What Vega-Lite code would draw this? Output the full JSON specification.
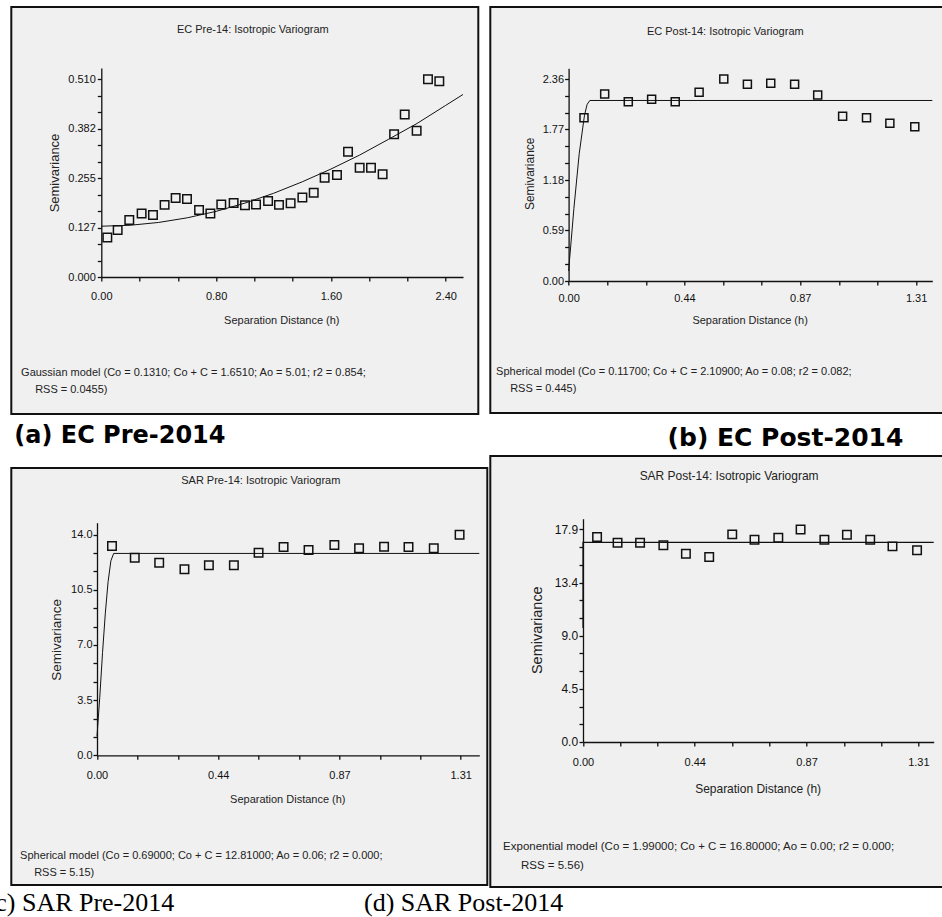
{
  "$schema": "https://vega.github.io/schema/vega-lite/v6.json",
  "background": "white",
  "padding": {"left": -14.7, "top": 6, "right": 0, "bottom": 0},
  "title": {"text": "(d) SAR Post-2014", "orient": "bottom", "anchor": "start", "frame": "group", "dx": 352.7, "offset": -27, "font": "Liberation Serif", "fontSize": 26, "fontWeight": "normal", "color": "#000"},
  "spacing": 1,
  "hconcat": [
    {
      "spacing": 18,
      "vconcat": [
        {
          "width": 467, "height": 407,
          "title": {"text": "(a) EC Pre-2014", "orient": "bottom", "anchor": "start", "frame": "group", "dx": 3, "offset": 10, "font": "DejaVu Sans", "fontSize": 24, "fontWeight": "bold", "color": "#000"},
          "data": {"values": [
            {"k":"o","h":0.042,"g":0.102},{"k":"o","h":0.114,"g":0.121},{"k":"o","h":0.195,"g":0.147},{"k":"o","h":0.281,"g":0.164},{"k":"o","h":0.360,"g":0.160},
            {"k":"o","h":0.441,"g":0.186},{"k":"o","h":0.518,"g":0.204},{"k":"o","h":0.597,"g":0.201},{"k":"o","h":0.681,"g":0.173},{"k":"o","h":0.760,"g":0.164},
            {"k":"o","h":0.836,"g":0.187},{"k":"o","h":0.922,"g":0.191},{"k":"o","h":1.001,"g":0.185},{"k":"o","h":1.078,"g":0.187},{"k":"o","h":1.162,"g":0.196},
            {"k":"o","h":1.238,"g":0.186},{"k":"o","h":1.319,"g":0.190},{"k":"o","h":1.401,"g":0.205},{"k":"o","h":1.480,"g":0.217},{"k":"o","h":1.556,"g":0.256},
            {"k":"o","h":1.642,"g":0.263},{"k":"o","h":1.719,"g":0.323},{"k":"o","h":1.800,"g":0.282},{"k":"o","h":1.879,"g":0.282},{"k":"o","h":1.960,"g":0.265},
            {"k":"o","h":2.040,"g":0.368},{"k":"o","h":2.114,"g":0.419},{"k":"o","h":2.197,"g":0.377},{"k":"o","h":2.276,"g":0.510},{"k":"o","h":2.355,"g":0.505},
            {"k":"m","i":0,"h":0,"g":0.131},{"k":"m","i":1,"h":0.2,"g":0.1334},{"k":"m","i":2,"h":0.4,"g":0.1407},{"k":"m","i":3,"h":0.6,"g":0.1527},
            {"k":"m","i":4,"h":0.8,"g":0.1693},{"k":"m","i":5,"h":1.0,"g":0.1905},{"k":"m","i":6,"h":1.2,"g":0.2158},{"k":"m","i":7,"h":1.4,"g":0.2455},
            {"k":"m","i":8,"h":1.6,"g":0.2784},{"k":"m","i":9,"h":1.8,"g":0.3145},{"k":"m","i":10,"h":2.0,"g":0.3549},{"k":"m","i":11,"h":2.2,"g":0.3960},
            {"k":"m","i":12,"h":2.4,"g":0.4427},{"k":"m","i":13,"h":2.52,"g":0.4707}
          ]},
          "layer": [
            {
              "transform": [{"filter": "datum.k == 'm'"}],
              "mark": {"type": "line", "color": "#111", "strokeWidth": 1},
              "encoding": {
                "x": {"field": "h", "type": "quantitative",
                  "scale": {"domain": [0, 2.52], "range": [90, 451.7], "nice": false, "zero": false},
                  "axis": {"values": [0, 0.266667, 0.533333, 0.8, 1.066667, 1.333333, 1.6, 1.866667, 2.133333, 2.4],
                    "labelExpr": "abs(datum.value/0.8-round(datum.value/0.8))<0.01 ? format(datum.value,'.2f') : ''",
                    "offset": -137, "labelPadding": 9, "title": "Separation Distance (h)", "titleX": 270, "titleY": 43, "titleBaseline": "middle", "titleAlign": "center"}},
                "y": {"field": "g", "type": "quantitative",
                  "scale": {"domain": [0, 0.539], "range": [270, 61], "nice": false, "zero": false},
                  "axis": {"values": [0, 0.0425, 0.085, 0.1275, 0.17, 0.2125, 0.255, 0.2975, 0.34, 0.3825, 0.425, 0.4675, 0.51],
                    "labelExpr": "abs(datum.value/0.1275-round(datum.value/0.1275))<0.01 ? format(floor(datum.value*1000+0.001)/1000,'.3f') : ''",
                    "offset": -90, "labelPadding": 2, "title": "Semivariance", "titleFontSize": 13, "titleX": -46.7, "titleY": 165.5, "titleBaseline": "middle", "titleAngle": 270, "titleAlign": "center"}},
                "order": {"field": "i", "type": "quantitative"}
              }
            },
            {
              "transform": [{"filter": "datum.k == 'o'"}],
              "mark": {"type": "square", "filled": false, "color": "#111", "size": 72, "strokeWidth": 1.5, "opacity": 1},
              "encoding": {
                "x": {"field": "h", "type": "quantitative",
                  "axis": {"orient": "top", "domain": false, "ticks": false, "labels": false, "title": "EC Pre-14: Isotropic Variogram", "titleX": 241, "titleY": 22.3, "titleBaseline": "middle", "titleAlign": "center"}},
                "y": {"field": "g", "type": "quantitative",
                  "axis": {"orient": "right", "domain": false, "ticks": false, "labels": false,
                    "title": ["Gaussian model (Co = 0.1310; Co + C = 1.6510; Ao = 5.01; r2 = 0.854;", "\u200b\u2003\u00a0RSS = 0.0455)"],
                    "titleX": -457.7, "titleY": 368.5, "titleAngle": 0, "titleAlign": "left", "titleBaseline": "alphabetic", "titleLineHeight": 17}}
              }
            }
          ],
          "resolve": {"axis": {"x": "independent", "y": "independent"}}
        },
        {
          "width": 476, "height": 417,
          "title": {"text": "(c) SAR Pre-2014", "orient": "bottom", "anchor": "start", "frame": "group", "dx": -24.7, "offset": 5.3, "font": "Liberation Serif", "fontSize": 26, "fontWeight": "normal", "color": "#000"},
          "data": {"values": [
            {"k":"o","h":0.054,"g":13.28},{"k":"o","h":0.136,"g":12.54},{"k":"o","h":0.224,"g":12.22},{"k":"o","h":0.315,"g":11.80},{"k":"o","h":0.403,"g":12.06},
            {"k":"o","h":0.493,"g":12.06},{"k":"o","h":0.582,"g":12.86},{"k":"o","h":0.672,"g":13.22},{"k":"o","h":0.762,"g":13.03},{"k":"o","h":0.855,"g":13.35},
            {"k":"o","h":0.944,"g":13.14},{"k":"o","h":1.034,"g":13.24},{"k":"o","h":1.122,"g":13.22},{"k":"o","h":1.213,"g":13.14},{"k":"o","h":1.306,"g":14.00},
            {"k":"m","i":0,"h":0,"g":1.2},{"k":"m","i":1,"h":0.01,"g":3.69},{"k":"m","i":2,"h":0.02,"g":6.53},{"k":"m","i":3,"h":0.03,"g":9.02},
            {"k":"m","i":4,"h":0.04,"g":11.02},{"k":"m","i":5,"h":0.05,"g":12.34},{"k":"m","i":6,"h":0.06,"g":12.81},{"k":"m","i":7,"h":1.377,"g":12.81}
          ]},
          "layer": [
            {
              "transform": [{"filter": "datum.k == 'm'"}],
              "mark": {"type": "line", "color": "#111", "strokeWidth": 1},
              "encoding": {
                "x": {"field": "h", "type": "quantitative",
                  "scale": {"domain": [0, 1.377], "range": [85.7, 468], "nice": false, "zero": false},
                  "axis": {"values": [0, 0.145556, 0.291111, 0.436667, 0.582222, 0.727778, 0.873333, 1.018889, 1.164444, 1.31],
                    "labelExpr": "abs(datum.value/0.436667-round(datum.value/0.436667))<0.01 ? format(datum.value,'.2f') : ''",
                    "offset": -129.7, "labelPadding": 10, "title": "Separation Distance (h)", "titleX": 276, "titleY": 44.7, "titleBaseline": "middle", "titleAlign": "center"}},
                "y": {"field": "g", "type": "quantitative",
                  "scale": {"domain": [0, 14.76], "range": [287.3, 54.7], "nice": false, "zero": false},
                  "axis": {"values": [0, 1.166667, 2.333333, 3.5, 4.666667, 5.833333, 7, 8.166667, 9.333333, 10.5, 11.666667, 12.833333, 14],
                    "labelExpr": "abs(datum.value/3.5-round(datum.value/3.5))<0.01 ? format(datum.value+0.001,'.1f') : ''",
                    "offset": -85.7, "labelPadding": 1, "title": "Semivariance", "titleFontSize": 13.5, "titleX": -40.7, "titleY": 171.3, "titleBaseline": "middle", "titleAngle": 270, "titleAlign": "center"}},
                "order": {"field": "i", "type": "quantitative"}
              }
            },
            {
              "transform": [{"filter": "datum.k == 'o'"}],
              "mark": {"type": "square", "filled": false, "color": "#111", "size": 72, "strokeWidth": 1.5, "opacity": 1},
              "encoding": {
                "x": {"field": "h", "type": "quantitative",
                  "axis": {"orient": "top", "domain": false, "ticks": false, "labels": false, "title": "SAR Pre-14: Isotropic Variogram", "titleX": 249, "titleY": 13, "titleBaseline": "middle", "titleAlign": "center"}},
                "y": {"field": "g", "type": "quantitative",
                  "axis": {"orient": "right", "domain": false, "ticks": false, "labels": false,
                    "title": ["Spherical model (Co = 0.69000; Co + C = 12.81000; Ao = 0.06; r2 = 0.000;", "\u200b\u2003\u00a0RSS = 5.15)"],
                    "titleX": -467.7, "titleY": 390.5, "titleAngle": 0, "titleAlign": "left", "titleBaseline": "alphabetic", "titleLineHeight": 17}}
              }
            }
          ],
          "resolve": {"axis": {"x": "independent", "y": "independent"}}
        }
      ]
    },
    {
      "spacing": 3,
      "vconcat": [
        {
          "width": 453, "height": 406,
          "title": {"text": "(b) EC Post-2014", "orient": "bottom", "anchor": "end", "frame": "group", "dx": -40, "offset": 13, "font": "DejaVu Sans", "fontSize": 25, "fontWeight": "bold", "color": "#000"},
          "data": {"values": [
            {"k":"o","h":0.058,"g":1.908},{"k":"o","h":0.136,"g":2.185},{"k":"o","h":0.225,"g":2.095},{"k":"o","h":0.313,"g":2.123},{"k":"o","h":0.402,"g":2.095},
            {"k":"o","h":0.492,"g":2.204},{"k":"o","h":0.585,"g":2.360},{"k":"o","h":0.674,"g":2.298},{"k":"o","h":0.762,"g":2.310},{"k":"o","h":0.852,"g":2.298},
            {"k":"o","h":0.939,"g":2.173},{"k":"o","h":1.033,"g":1.924},{"k":"o","h":1.123,"g":1.908},{"k":"o","h":1.211,"g":1.842},{"k":"o","h":1.305,"g":1.803},
            {"k":"m","i":0,"h":0,"g":0.117},{"k":"m","i":1,"h":0.02,"g":0.848},{"k":"m","i":2,"h":0.04,"g":1.487},{"k":"m","i":3,"h":0.06,"g":1.938},
            {"k":"m","i":4,"h":0.07,"g":2.064},{"k":"m","i":5,"h":0.08,"g":2.109},{"k":"m","i":6,"h":1.371,"g":2.109}
          ]},
          "layer": [
            {
              "transform": [{"filter": "datum.k == 'm'"}],
              "mark": {"type": "line", "color": "#111", "strokeWidth": 1},
              "encoding": {
                "x": {"field": "h", "type": "quantitative",
                  "scale": {"domain": [0, 1.371], "range": [78.3, 442], "nice": false, "zero": false},
                  "axis": {"values": [0, 0.145556, 0.291111, 0.436667, 0.582222, 0.727778, 0.873333, 1.018889, 1.164444, 1.31],
                    "labelExpr": "abs(datum.value/0.436667-round(datum.value/0.436667))<0.01 ? format(datum.value,'.2f') : ''",
                    "offset": -132, "labelPadding": 7.3, "title": "Separation Distance (h)", "titleX": 259.3, "titleY": 39.7, "titleBaseline": "middle", "titleAlign": "center"}},
                "y": {"field": "g", "type": "quantitative",
                  "scale": {"domain": [0, 2.485], "range": [274, 61.3], "nice": false, "zero": false},
                  "axis": {"values": [0, 0.196667, 0.393333, 0.59, 0.786667, 0.983333, 1.18, 1.376667, 1.573333, 1.77, 1.966667, 2.163333, 2.36],
                    "labelExpr": "abs(datum.value/0.59-round(datum.value/0.59))<0.01 ? format(datum.value+0.0001,'.2f') : ''",
                    "offset": -78.3, "labelPadding": 1, "title": "Semivariance", "titleFontSize": 12, "titleX": -39, "titleY": 166.3, "titleBaseline": "middle", "titleAngle": 270, "titleAlign": "center"}},
                "order": {"field": "i", "type": "quantitative"}
              }
            },
            {
              "transform": [{"filter": "datum.k == 'o'"}],
              "mark": {"type": "square", "filled": false, "color": "#111", "size": 64, "strokeWidth": 1.5, "opacity": 1},
              "encoding": {
                "x": {"field": "h", "type": "quantitative",
                  "axis": {"orient": "top", "domain": false, "ticks": false, "labels": false, "title": "EC Post-14: Isotropic Variogram", "titleX": 234.5, "titleY": 24, "titleBaseline": "middle", "titleAlign": "center"}},
                "y": {"field": "g", "type": "quantitative",
                  "axis": {"orient": "right", "domain": false, "ticks": false, "labels": false,
                    "title": ["Spherical model (Co = 0.11700; Co + C = 2.10900; Ao = 0.08; r2 = 0.082;", "\u200b\u2003\u00a0RSS = 0.445)"],
                    "titleX": -447.7, "titleY": 367.5, "titleAngle": 0, "titleAlign": "left", "titleBaseline": "alphabetic", "titleLineHeight": 17}}
              }
            }
          ],
          "resolve": {"axis": {"x": "independent", "y": "independent"}}
        },
        {
          "width": 453, "height": 431,
          "data": {"values": [
            {"k":"o","h":0.055,"g":17.26},{"k":"o","h":0.135,"g":16.78},{"k":"o","h":0.223,"g":16.78},{"k":"o","h":0.314,"g":16.56},{"k":"o","h":0.402,"g":15.85},
            {"k":"o","h":0.493,"g":15.57},{"k":"o","h":0.583,"g":17.48},{"k":"o","h":0.670,"g":17.03},{"k":"o","h":0.763,"g":17.20},{"k":"o","h":0.850,"g":17.90},
            {"k":"o","h":0.943,"g":17.03},{"k":"o","h":1.031,"g":17.45},{"k":"o","h":1.122,"g":17.03},{"k":"o","h":1.209,"g":16.47},{"k":"o","h":1.305,"g":16.14},
            {"k":"m","i":0,"h":0,"g":9.6},{"k":"m","i":1,"h":0,"g":16.8},{"k":"m","i":2,"h":1.37,"g":16.8}
          ]},
          "layer": [
            {
              "transform": [{"filter": "datum.k == 'm'"}],
              "mark": {"type": "line", "color": "#111", "strokeWidth": 1.2},
              "encoding": {
                "x": {"field": "h", "type": "quantitative",
                  "scale": {"domain": [0, 1.37], "range": [92.7, 443.4], "nice": false, "zero": false},
                  "axis": {"values": [0, 0.145556, 0.291111, 0.436667, 0.582222, 0.727778, 0.873333, 1.018889, 1.164444, 1.31],
                    "labelExpr": "abs(datum.value/0.436667-round(datum.value/0.436667))<0.01 ? format(datum.value,'.2f') : ''",
                    "offset": -145, "labelPadding": 11, "title": "Separation Distance (h)", "titleFontSize": 12, "titleX": 267.3, "titleY": 46.7, "titleBaseline": "middle", "titleAlign": "center"}},
                "y": {"field": "g", "type": "quantitative",
                  "scale": {"domain": [0, 18.8], "range": [286, 62.7], "nice": false, "zero": false},
                  "axis": {"values": [0, 1.491667, 2.983333, 4.475, 5.966667, 7.458333, 8.95, 10.441667, 11.933333, 13.425, 14.916667, 16.408333, 17.9],
                    "labelExpr": "abs(datum.value/4.475-round(datum.value/4.475))<0.01 ? format(datum.value+0.001,'.1f') : ''",
                    "offset": -92.7, "labelPadding": 1.4, "labelFontSize": 12, "title": "Semivariance", "titleFontSize": 14.5, "titleX": -45.4, "titleY": 173.7, "titleBaseline": "middle", "titleAngle": 270, "titleAlign": "center"}},
                "order": {"field": "i", "type": "quantitative"}
              }
            },
            {
              "transform": [{"filter": "datum.k == 'o'"}],
              "mark": {"type": "square", "filled": false, "color": "#111", "size": 72, "strokeWidth": 1.5, "opacity": 1},
              "encoding": {
                "x": {"field": "h", "type": "quantitative",
                  "axis": {"orient": "top", "domain": false, "ticks": false, "labels": false, "title": "SAR Post-14: Isotropic Variogram", "titleFontSize": 12, "titleX": 238.3, "titleY": 19.3, "titleBaseline": "middle", "titleAlign": "center"}},
                "y": {"field": "g", "type": "quantitative",
                  "axis": {"orient": "right", "domain": false, "ticks": false, "labels": false,
                    "title": ["Exponential model (Co = 1.99000; Co + C = 16.80000; Ao = 0.00; r2 = 0.000;", "\u200b\u2003\u00a0\u00a0RSS = 5.56)"],
                    "titleFontSize": 11.5,
                    "titleX": -440.7, "titleY": 393.5, "titleAngle": 0, "titleAlign": "left", "titleBaseline": "alphabetic", "titleLineHeight": 19}}
              }
            }
          ],
          "resolve": {"axis": {"x": "independent", "y": "independent"}}
        }
      ]
    }
  ],
  "config": {
    "view": {"stroke": "#111", "strokeWidth": 2, "fill": "#f0f0f0"},
    "axis": {
      "grid": false, "labelFlush": false, "labelOverlap": false, "labelBound": false,
      "domainColor": "#111", "domainWidth": 1.3, "tickColor": "#111", "tickWidth": 1.3, "tickSize": 4,
      "labelFont": "Liberation Sans", "labelFontSize": 11, "labelColor": "#111",
      "titleFont": "Liberation Sans", "titleFontSize": 11, "titleFontWeight": "normal", "titleColor": "#222", "titlePadding": 0
    }
  }
}
